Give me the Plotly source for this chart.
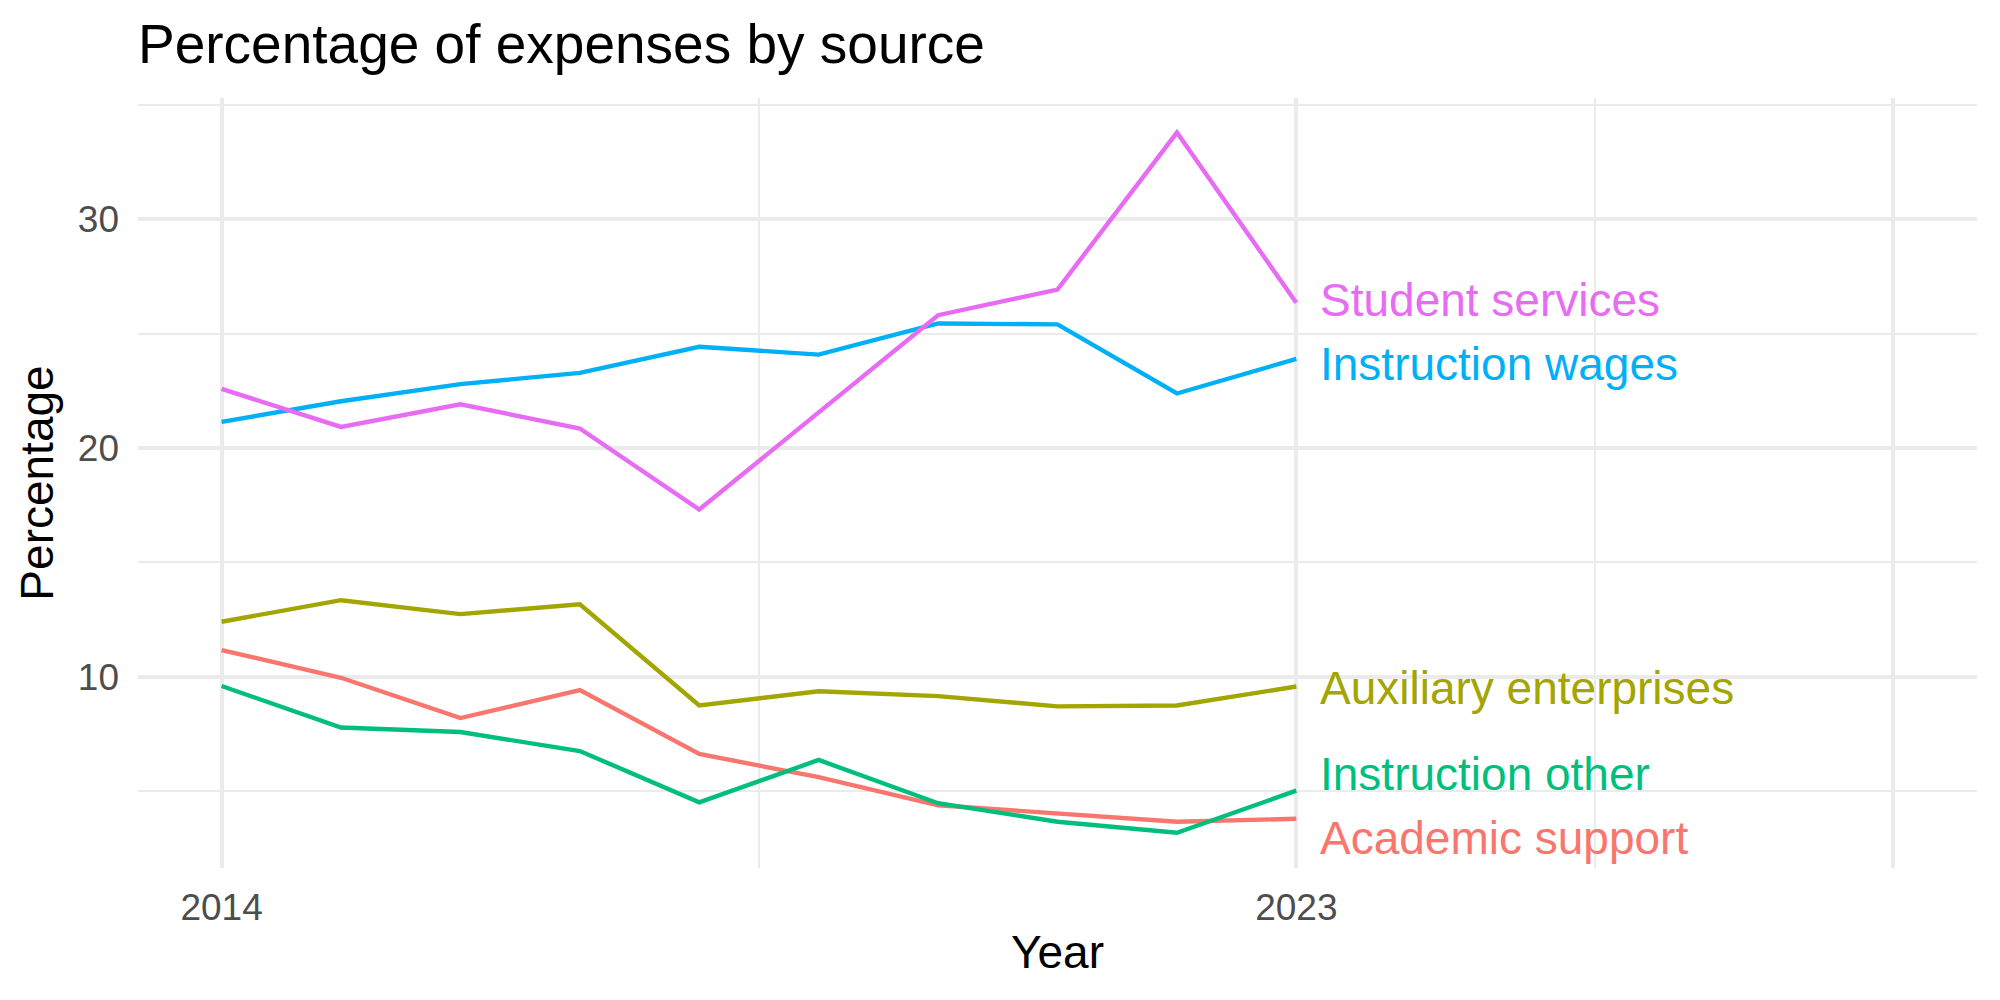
import plotly.graph_objects as go

years = [2014, 2015, 2016, 2017, 2018, 2019, 2020, 2021, 2022, 2023]

academic_support = [11.17, 9.96, 8.20, 9.42, 6.63, 5.62, 4.39, 4.04, 3.67, 3.80]
auxiliary_enterprises = [12.41, 13.35, 12.74, 13.17, 8.75, 9.37, 9.16, 8.71, 8.75, 9.58]
instruction_other = [9.60, 7.79, 7.59, 6.76, 4.52, 6.37, 4.48, 3.67, 3.19, 5.03]
instruction_wages = [21.14, 22.04, 22.79, 23.28, 24.42, 24.08, 25.44, 25.40, 22.38, 23.89]
student_services = [22.58, 20.92, 21.91, 20.85, 17.31, 21.55, 25.80, 26.92, 33.78, 26.34]

series_names = ["Academic support", "Auxiliary enterprises", "Instruction other",
                "Instruction wages", "Student services"]
series_values = [academic_support, auxiliary_enterprises, instruction_other,
                 instruction_wages, student_services]
colors = ["#F8766D", "#A3A500", "#00BF7D", "#00B0F6", "#E76BF3"]

x_tick_vals = [2014, 2023, 2028]
x_tick_text = ["2014", "2023", ""]
x_minor_vals = [2018.5, 2025.5]

# label repel offsets (data units) mimicking ggrepel separation
label_offsets = [-0.83, -0.06, 0.73, -0.23, 0.14]

FONT = "Liberation Sans, Arial, Helvetica, sans-serif"

fig = go.Figure()
for name, vals, col in zip(series_names, series_values, colors):
    fig.add_trace(go.Scatter(x=years, y=vals, mode="lines", name=name,
                             line=dict(color=col, width=4.4), showlegend=False))

for name, vals, col, off in zip(series_names, series_values, colors, label_offsets):
    fig.add_annotation(x=years[-1], y=vals[-1] + off, text=name, showarrow=False,
                       xanchor="left", yanchor="middle", xshift=22,
                       font=dict(family=FONT, size=46, color=col))

fig.update_layout(
    width=2000, height=1000,
    margin=dict(l=138, r=23, t=98, b=132),
    paper_bgcolor="white", plot_bgcolor="white",
    font=dict(family=FONT),
    title=dict(text="Percentage of expenses by source", x=138/2000, xanchor="left",
               xref="container", y=1 - 44/1000, yref="container", yanchor="middle",
               font=dict(family=FONT, size=55, color="black")),
)

fig.update_xaxes(
    range=[2013.3, 2028.7], tickmode="array", tickvals=x_tick_vals, ticktext=x_tick_text,
    showgrid=True, gridcolor="#EBEBEB", gridwidth=3.5, zeroline=False, showline=False,
    ticks="", ticklabelstandoff=14,
    tickfont=dict(family=FONT, size=37, color="#4D4D4D"),
    minor=dict(tickmode="array", tickvals=x_minor_vals, showgrid=True,
               gridcolor="#EBEBEB", gridwidth=1.8),
    title=dict(text="Year", font=dict(family=FONT, size=46, color="black"), standoff=8),
)
fig.update_yaxes(
    range=[1.65, 35.29], tickmode="array", tickvals=[10, 20, 30],
    showgrid=True, gridcolor="#EBEBEB", gridwidth=3.5, zeroline=False, showline=False,
    ticks="", ticklabelstandoff=18,
    tickfont=dict(family=FONT, size=37, color="#4D4D4D"),
    minor=dict(tickmode="array", tickvals=[5, 15, 25, 35], showgrid=True,
               gridcolor="#EBEBEB", gridwidth=1.8),
    title=dict(text="Percentage", font=dict(family=FONT, size=46, color="black"), standoff=9),
)

fig.write_html("out.html")
